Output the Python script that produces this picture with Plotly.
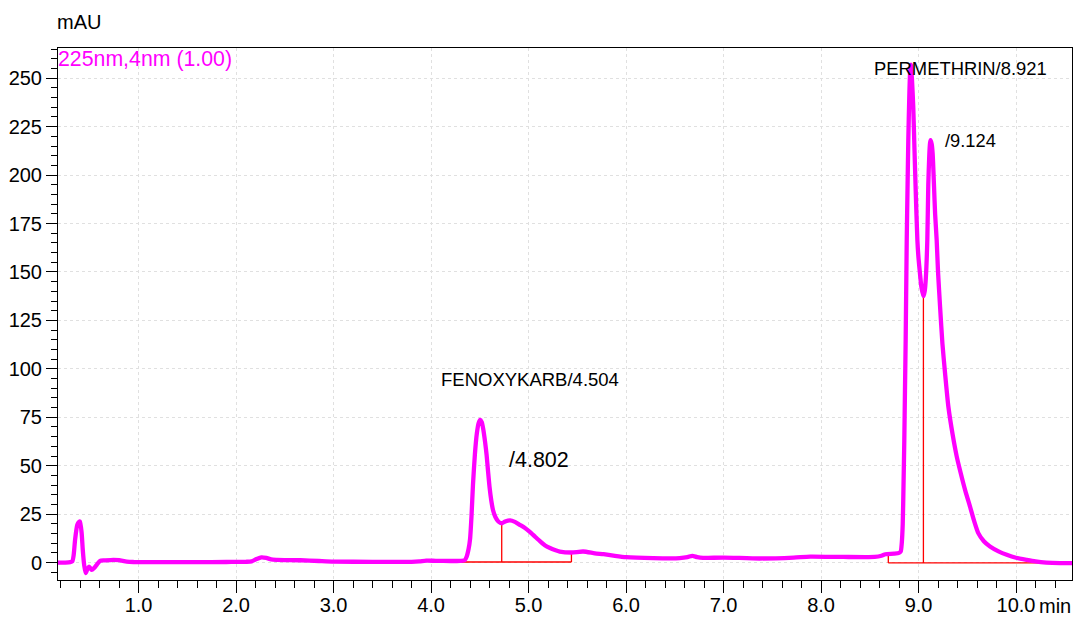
import plotly.graph_objects as go

# Detector trace: retention time (min) and absorbance (mAU)
time_min = [
    0.17, 0.25, 0.30, 0.321, 0.335, 0.349, 0.372, 0.39, 0.40, 0.417, 0.428, 0.443,
    0.458, 0.475, 0.492, 0.505, 0.52, 0.545, 0.571, 0.605, 0.65, 0.742, 0.80, 0.879,
    0.95, 1.22, 1.6, 1.9, 2.1, 2.16, 2.21, 2.26, 2.31, 2.36, 2.42, 2.66, 2.85, 3.0,
    3.4, 3.8, 3.88, 3.95, 4.05, 4.2, 4.3, 4.345, 4.365, 4.385, 4.40, 4.415, 4.43,
    4.45, 4.47, 4.488, 4.504, 4.52, 4.535, 4.555, 4.57, 4.585, 4.60, 4.618, 4.636,
    4.66, 4.69, 4.725, 4.76, 4.81, 4.86, 4.91, 4.96, 5.01, 5.07, 5.12, 5.17, 5.22,
    5.27, 5.32, 5.44, 5.56, 5.68, 5.77, 5.87, 6.0, 6.28, 6.55, 6.63, 6.68, 6.73,
    6.79, 7.0, 7.37, 7.72, 7.89, 8.23, 8.55, 8.62, 8.66, 8.75, 8.80, 8.817, 8.828,
    8.838, 8.846, 8.854, 8.861, 8.868, 8.879, 8.887, 8.895, 8.905, 8.913, 8.921,
    8.932, 8.946, 8.958, 8.971, 8.988, 9.0, 9.015, 9.03, 9.05, 9.063, 9.075, 9.09,
    9.1, 9.11, 9.118, 9.124, 9.135, 9.145, 9.159, 9.17, 9.186, 9.2, 9.221, 9.245,
    9.272, 9.306, 9.35, 9.392, 9.433, 9.48, 9.528, 9.57, 9.613, 9.67, 9.733, 9.82,
    9.905, 10.0, 10.11, 10.2, 10.31, 10.45, 10.575,
]
absorbance_mau = [
    0.0, 0.0, 0.2, 0.6, 4.0, 11.7, 19.5, 21.0, 21.2, 15.0, 6.6, -1.5,
    -5.5, -3.5, -2.1, -2.8, -3.8, -2.8, -1.2, 0.9, 1.1, 1.4, 1.2, 0.5,
    0.3, 0.2, 0.2, 0.3, 0.4, 0.6, 1.8, 2.7, 2.4, 1.6, 1.4, 1.2, 0.8, 0.5,
    0.4, 0.4, 0.6, 1.0, 0.9, 0.8, 0.9, 1.2, 3.0, 7.0, 12.0, 24.0, 40.0,
    56.0, 66.7, 72.0, 73.6, 72.5, 69.0, 62.0, 55.5, 47.0, 39.0, 32.0, 27.0,
    23.5, 21.2, 20.3, 21.2, 21.8, 21.0, 19.5, 18.0, 16.0, 13.2, 10.9, 8.8, 7.5,
    6.5, 5.7, 5.2, 5.7, 4.8, 4.3, 3.6, 2.8, 2.3, 2.3, 2.8, 3.5, 2.8,
    2.4, 2.6, 2.1, 2.6, 3.1, 2.9, 2.9, 3.5, 4.3, 4.6, 5.0, 5.7, 10.0,
    20.0, 40.0, 63.0, 89.0, 115.0, 166.5, 193.0, 218.0, 240.0, 252.6, 257.0,
    250.0, 235.0, 214.0, 192.0, 166.5, 157.0, 149.0, 142.0, 137.5, 140.0, 147.0, 166.5,
    195.0, 210.0, 216.5, 218.0, 216.0, 211.0, 194.0, 180.0, 166.5, 150.0, 132.0, 113.0,
    97.7, 80.5, 66.0, 54.7, 46.1, 37.0, 28.9, 21.5, 15.2, 11.0, 8.3, 5.8,
    4.0, 2.5, 1.4, 0.6, 0.0, -0.3, -0.3,
]

# Identified peaks
peak_names = ["FENOXYKARB", "", "PERMETHRIN", ""]
peak_rt = [4.504, 4.802, 8.921, 9.124]

# Integration baselines: (start, end, level) and drop lines: (time, top)
baseline_start = [4.18, 8.69]
baseline_end = [5.44, 10.35]
baseline_level = [0.3, -0.2]
drop_time = [4.725, 5.44, 8.69, 9.05]
drop_top = [20.3, 5.2, 4.4, 137.5]
drop_base = [0.3, 0.3, -0.2, -0.2]

FONT = "Liberation Sans, Arial, sans-serif"
MAGENTA = "#ff00ff"
RED = "#ff0000"

fig = go.Figure()

# integration baselines
for x0, x1, lv in zip(baseline_start, baseline_end, baseline_level):
    fig.add_trace(go.Scatter(x=[x0, x1], y=[lv, lv], mode="lines",
                             line=dict(color=RED, width=1.3), hoverinfo="skip"))
for t, top, base in zip(drop_time, drop_top, drop_base):
    fig.add_trace(go.Scatter(x=[t, t], y=[base, top], mode="lines",
                             line=dict(color=RED, width=1.3), hoverinfo="skip"))

# chromatogram
fig.add_trace(go.Scatter(
    x=time_min, y=absorbance_mau, mode="lines",
    line=dict(color=MAGENTA, width=4.3, shape="spline", smoothing=0.6),
))

# peak labels (left edge x, centre y, font size)
label_pos = [(4.103, 94.5, 18.5), (4.80, 53.0, 21.5), (8.544, 255.1, 18.4), (9.272, 217.9, 18.3)]
for name, rt, (lx, ly, fs) in zip(peak_names, peak_rt, label_pos):
    fig.add_annotation(x=lx, y=ly, xref="x", yref="y", text=f"{name}/{rt:.3f}",
                       showarrow=False, xanchor="left", yanchor="middle", xshift=-2,
                       font=dict(family=FONT, size=fs, color="#000000"))

fig.add_annotation(x=0, y=1, xref="paper", yref="paper", text="225nm,4nm (1.00)",
                   showarrow=False, xanchor="left", yanchor="middle", xshift=-2, yshift=-11,
                   font=dict(family=FONT, size=21.3, color=MAGENTA))
fig.add_annotation(x=0, y=1, xref="paper", yref="paper", text="mAU",
                   showarrow=False, xanchor="left", yanchor="middle", xshift=-3, yshift=26,
                   font=dict(family=FONT, size=20, color="#000000"))
fig.add_annotation(x=1, y=0, xref="paper", yref="paper", text="min",
                   showarrow=False, xanchor="right", yanchor="middle", xshift=1, yshift=-26,
                   font=dict(family=FONT, size=20, color="#000000"))

fig.update_layout(
    width=1077, height=617,
    margin=dict(l=58, r=5, t=48, b=37),
    paper_bgcolor="white", plot_bgcolor="white",
    showlegend=False,
    font=dict(family=FONT, size=20, color="#000000"),
)
fig.update_xaxes(
    range=[0.174, 10.574], tickvals=[1, 2, 3, 4, 5, 6, 7, 8, 9, 10], tickformat=".1f",
    ticks="outside", ticklen=12, tickcolor="#000000", tickwidth=1,
    ticklabelstandoff=-5,
    showline=True, linecolor="#000000", linewidth=1, mirror=True,
    showgrid=True, gridcolor="#e0e0e0", griddash="dot", gridwidth=1, zeroline=False,
    minor=dict(dtick=0.2, tick0=0, ticks="outside", ticklen=7, tickcolor="#000000", showgrid=False),
    tickfont=dict(family=FONT, size=20), automargin=False,
)
fig.update_yaxes(
    range=[-9.0, 265.6], tick0=0, dtick=25,
    ticks="outside", ticklen=11, tickcolor="#000000", tickwidth=1,
    showline=True, linecolor="#000000", linewidth=1, mirror=True,
    showgrid=True, gridcolor="#e0e0e0", griddash="dot", gridwidth=1, zeroline=False,
    minor=dict(dtick=5, tick0=0, ticks="outside", ticklen=6, tickcolor="#000000", showgrid=False),
    tickfont=dict(family=FONT, size=20), automargin=False,
)

fig.write_html("out.html")
